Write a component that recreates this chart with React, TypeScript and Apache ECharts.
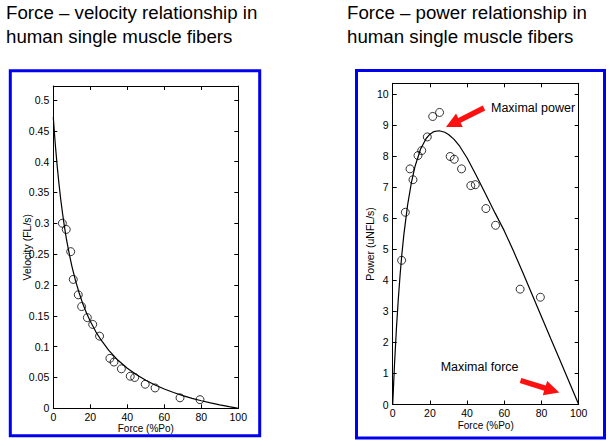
import React, { useEffect, useRef } from "react";
import * as echarts from "echarts";

// ---- Left panel: force–velocity ----
const velForce = [4.9, 7.0, 9.4, 10.8, 13.5, 15.3, 18.4, 21.3, 25.0, 30.6, 32.8, 36.8, 41.6, 44.0, 49.7, 55.0, 68.5, 79.3];
const velValues = [0.300, 0.290, 0.254, 0.209, 0.184, 0.165, 0.147, 0.136, 0.117, 0.081, 0.075, 0.064, 0.052, 0.050, 0.039, 0.033, 0.017, 0.014];
const velFitForce = [0, 1, 2, 3, 4, 5, 6, 7, 8, 9, 10, 12, 14, 16, 18, 20, 23, 26, 30, 35, 40, 45, 50, 55, 60, 65, 70, 75, 80, 85, 90, 95, 100];
const velFitValues = [0.472, 0.431, 0.396, 0.366, 0.339, 0.316, 0.295, 0.276, 0.260, 0.245, 0.231, 0.207, 0.187, 0.169, 0.154, 0.141, 0.124, 0.110, 0.0938, 0.0778, 0.0649, 0.0543, 0.0454, 0.0378, 0.0312, 0.0256, 0.0206, 0.0162, 0.0122, 0.0087, 0.0055, 0.0026, 0];

// ---- Right panel: force–power ----
const powForce = [4.8, 6.8, 9.3, 10.9, 13.6, 15.6, 18.6, 21.5, 25.2, 30.9, 33.1, 37.0, 42.0, 44.4, 50.1, 55.3, 68.5, 79.4];
const powValues = [4.65, 6.2, 7.6, 7.25, 8.03, 8.19, 8.63, 9.29, 9.42, 8.0, 7.91, 7.6, 7.06, 7.09, 6.32, 5.78, 3.72, 3.46];
const powFitForce = [0, 1, 2, 3, 4, 5, 6, 8, 10, 12, 15, 18, 20, 22, 25, 28, 30, 33, 36, 40, 45, 50, 55, 60, 65, 70, 75, 80, 85, 90, 95, 100];
const powFitValues = [0, 1.33, 2.45, 3.39, 4.2, 4.89, 5.48, 6.43, 7.14, 7.68, 8.24, 8.58, 8.72, 8.8, 8.83, 8.78, 8.71, 8.55, 8.33, 7.95, 7.38, 6.78, 6.18, 5.6, 4.94, 4.25, 3.54, 2.83, 2.12, 1.42, 0.71, 0];

const FONT = "'Liberation Sans', Arial, Helvetica, sans-serif";
const TICK_FS = 10.5;

const zip = (xs: number[], ys: number[]) => xs.map((x, i) => [x, ys[i]]);

function arrowPoints(tx: number, ty: number, px: number, py: number, headLen: number, headHalf: number, shaftHalf: number) {
  const dx = px - tx, dy = py - ty;
  const L = Math.hypot(dx, dy);
  const ux = dx / L, uy = dy / L;
  const nx = -uy, ny = ux;
  const bx = px - headLen * ux, by = py - headLen * uy;
  return [
    [tx + shaftHalf * nx, ty + shaftHalf * ny],
    [bx + shaftHalf * nx, by + shaftHalf * ny],
    [bx + headHalf * nx, by + headHalf * ny],
    [px, py],
    [bx - headHalf * nx, by - headHalf * ny],
    [bx - shaftHalf * nx, by - shaftHalf * ny],
    [tx - shaftHalf * nx, ty - shaftHalf * ny],
  ];
}

function fmt(step: number) {
  return (v: number) => {
    const k = v / step;
    if (Math.abs(k - Math.round(k)) > 1e-6) return "";
    return String(parseFloat(v.toFixed(3)));
  };
}

function xAxes(gridIndex: number, nameGap: number) {
  const common = {
    gridIndex,
    type: "value" as const,
    min: 0,
    max: 100,
    interval: 20,
    splitLine: { show: false },
    axisLine: { show: true, onZero: false, lineStyle: { color: "#000", width: 1 } },
    axisTick: { show: true, inside: true, length: 4, lineStyle: { color: "#000" } },
  };
  return [
    {
      ...common,
      position: "bottom",
      name: "Force (%Po)",
      nameLocation: "middle",
      nameGap,
      nameMoveOverlap: false,
      nameTextStyle: { fontFamily: FONT, fontSize: 10, lineHeight: 11, color: "#000" },
      axisLabel: { fontFamily: FONT, fontSize: TICK_FS, lineHeight: 11, color: "#000", margin: 3 },
    },
    { ...common, position: "top", axisLabel: { show: false } },
  ];
}

function yAxes(gridIndex: number, max: number, interval: number, name: string, nameGap: number) {
  const common = {
    gridIndex,
    type: "value" as const,
    min: 0,
    max,
    interval,
    splitLine: { show: false },
    axisLine: { show: true, onZero: false, lineStyle: { color: "#000", width: 1 } },
    axisTick: { show: true, inside: true, length: 4, lineStyle: { color: "#000" } },
  };
  return [
    {
      ...common,
      position: "left",
      name,
      nameLocation: "middle",
      nameGap,
      nameMoveOverlap: false,
      nameTextStyle: { fontFamily: FONT, fontSize: 10.5, color: "#000" },
      axisLabel: { fontFamily: FONT, fontSize: TICK_FS, color: "#000", margin: 4, formatter: fmt(interval) },
    },
    { ...common, position: "right", axisLabel: { show: false } },
  ];
}

const scatterStyle = {
  type: "scatter" as const,
  symbol: "circle",
  symbolSize: 8,
  itemStyle: { color: "rgba(255,255,255,0)", borderColor: "#000", borderWidth: 1 },
};

const lineStyle = {
  type: "line" as const,
  symbol: "none",
  smooth: false,
  lineStyle: { color: "#000", width: 1.2 },
};

export default function App() {
  const ref = useRef<HTMLDivElement>(null);
  useEffect(() => {
    if (!ref.current) return;
    const chart = echarts.init(ref.current, undefined, { renderer: "svg" });
    const titleStyle = { font: `18.7px ${FONT}`, fill: "#000", textVerticalAlign: "middle" };
    const red = "#ff1010";
    chart.setOption({
      animation: false,
      backgroundColor: "#fff",
      grid: [
        { left: 53.3, top: 86, right: 373.7, bottom: 37.7 },
        { left: 392.7, top: 83.3, right: 33.3, bottom: 41.5 },
      ],
      xAxis: [...xAxes(0, 14.5), ...xAxes(1, 15)],
      yAxis: [
        ...yAxes(0, 0.5226, 0.05, "Velocity (FL/s)", 21),
        ...yAxes(1, 10.36, 1, "Power (uNFL/s)", 17),
      ],
      series: [
        { ...lineStyle, name: "Velocity fit", xAxisIndex: 0, yAxisIndex: 0, data: zip(velFitForce, velFitValues) },
        { ...scatterStyle, name: "Velocity", xAxisIndex: 0, yAxisIndex: 0, data: zip(velForce, velValues) },
        { ...lineStyle, name: "Power fit", xAxisIndex: 2, yAxisIndex: 2, data: zip(powFitForce, powFitValues) },
        { ...scatterStyle, name: "Power", xAxisIndex: 2, yAxisIndex: 2, data: zip(powForce, powValues) },
      ],
      graphic: [
        { type: "rect", shape: { x: 10.3, y: 70.7, width: 249.4, height: 365.1 }, style: { fill: "none", stroke: "#0000f0", lineWidth: 3 } },
        { type: "rect", shape: { x: 356.5, y: 70.5, width: 248, height: 367.5 }, style: { fill: "none", stroke: "#0000f0", lineWidth: 3 } },
        { type: "text", x: 6, y: 12.8, style: { ...titleStyle, text: "Force – velocity relationship in" } },
        { type: "text", x: 6, y: 36.1, style: { ...titleStyle, text: "human single muscle fibers" } },
        { type: "text", x: 347, y: 12.8, style: { ...titleStyle, text: "Force – power relationship in" } },
        { type: "text", x: 347, y: 36.1, style: { ...titleStyle, text: "human single muscle fibers" } },
        { type: "text", x: 491, y: 108.2, style: { text: "Maximal power", font: `12.5px ${FONT}`, fill: "#000", textVerticalAlign: "middle" } },
        { type: "text", x: 440.7, y: 367.4, style: { text: "Maximal force", font: `12.5px ${FONT}`, fill: "#000", textVerticalAlign: "middle" } },
        { type: "polygon", shape: { points: arrowPoints(484, 108, 446, 127, 15, 7.5, 2.7) }, style: { fill: red } },
        { type: "polygon", shape: { points: arrowPoints(520.5, 380.5, 559.3, 392.5, 15, 7.5, 2.7) }, style: { fill: red } },
      ],
    });
    return () => chart.dispose();
  }, []);
  return <div ref={ref} style={{ position: "fixed", left: 0, top: 0, width: 612, height: 446 }} />;
}
